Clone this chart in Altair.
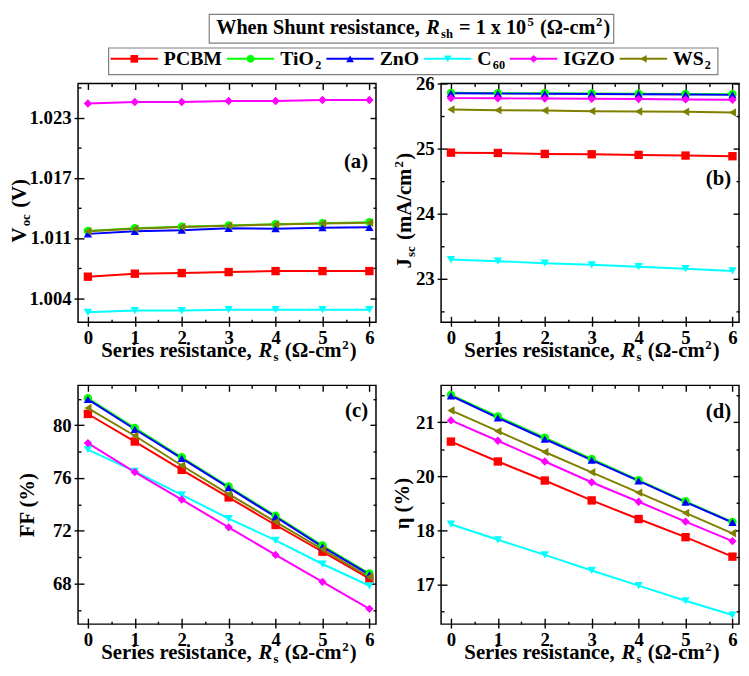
import altair as alt
import pandas as pd

# ---------------- data ----------------
RS = [0, 1, 2, 3, 4, 5, 6]
SERIES = ["PCBM", "TiO2", "ZnO", "C60", "IGZO", "WS2"]
COLORS = ["#ff0000", "#00ff00", "#0000ff", "#00ffff", "#ff00ff", "#808000"]
SHAPES = ["square", "circle", "triangle-up", "triangle-down", "diamond", "triangle-left"]
LEGEND_PARTS = [[("PCBM", "n")], [("TiO", "n"), ("2", "sub")], [("ZnO", "n")],
                [("C", "n"), ("60", "sub")], [("IGZO", "n")], [("WS", "n"), ("2", "sub")]]

VOC_PCBM = [1.00664, 1.00694, 1.00700, 1.00710, 1.00720, 1.00720, 1.00720]
VOC_TIO2 = [1.01120, 1.01148, 1.01162, 1.01174, 1.01187, 1.01198, 1.01208]
VOC_ZNO = [1.01091, 1.01117, 1.01127, 1.01146, 1.01143, 1.01153, 1.01156]
VOC_C60 = [1.00309, 1.00326, 1.00326, 1.00335, 1.00335, 1.00335, 1.00335]
VOC_IGZO = [1.02390, 1.02406, 1.02406, 1.02416, 1.02416, 1.02426, 1.02426]
VOC_WS2 = [1.01117, 1.01143, 1.01159, 1.01172, 1.01185, 1.01195, 1.01202]

JSC_PCBM = [24.937, 24.932, 24.917, 24.912, 24.902, 24.892, 24.882]
JSC_TIO2 = [25.856, 25.852, 25.850, 25.847, 25.843, 25.840, 25.836]
JSC_ZNO = [25.850, 25.845, 25.842, 25.838, 25.835, 25.830, 25.825]
JSC_C60 = [23.293, 23.268, 23.238, 23.213, 23.183, 23.153, 23.118]
JSC_IGZO = [25.775, 25.772, 25.768, 25.765, 25.760, 25.755, 25.750]
JSC_WS2 = [25.600, 25.590, 25.585, 25.575, 25.570, 25.565, 25.555]

FF_PCBM = [80.86, 78.77, 76.62, 74.53, 72.44, 70.41, 68.37]
FF_TIO2 = [82.05, 79.80, 77.58, 75.36, 73.14, 70.88, 68.76]
FF_ZNO = [81.97, 79.70, 77.49, 75.27, 73.05, 70.78, 68.67]
FF_C60 = [78.15, 76.50, 74.73, 72.93, 71.28, 69.48, 67.83]
FF_IGZO = [78.65, 76.45, 74.36, 72.26, 70.17, 68.12, 66.08]
FF_WS2 = [81.31, 79.21, 76.95, 74.78, 72.68, 70.59, 68.49]

ETA_PCBM = [20.30, 19.84, 19.40, 18.94, 18.51, 18.09, 17.64]
ETA_TIO2 = [21.38, 20.88, 20.39, 19.90, 19.41, 18.92, 18.44]
ETA_ZNO = [21.36, 20.85, 20.36, 19.87, 19.39, 18.90, 18.43]
ETA_C60 = [18.39, 18.03, 17.68, 17.32, 16.97, 16.62, 16.29]
ETA_IGZO = [20.79, 20.32, 19.84, 19.36, 18.91, 18.45, 18.00]
ETA_WS2 = [21.02, 20.54, 20.06, 19.59, 19.12, 18.65, 18.18]

# axis ticks
X_MINOR = [0.5, 1.5, 2.5, 3.5, 4.5, 5.5]
VOC_TICKS = [1.0045, 1.0105, 1.0165, 1.0225]
VOC_LABELS = ["1.004", "1.011", "1.017", "1.023"]
VOC_MINOR = [1.0015, 1.0075, 1.0135, 1.0195, 1.0255]
JSC_TICKS = [23, 24, 25, 26]
JSC_MINOR = [22.5, 23.5, 24.5, 25.5]
FF_TICKS = [68, 72, 76, 80]
FF_MINOR = [66, 70, 74, 78, 82]
ETA_TICKS = [17, 18.25, 19.5, 20.75]
ETA_LABELS = ["17", "18", "20", "21"]
ETA_MINOR = [16.375, 17.625, 18.875, 20.125, 21.375]


def long_df(cols):
    rows = []
    for name, vals in zip(SERIES, cols):
        for r, v in zip(RS, vals):
            rows.append({"Rs": r, "series": name, "value": v})
    return pd.DataFrame(rows)


DF_VOC = long_df([VOC_PCBM, VOC_TIO2, VOC_ZNO, VOC_C60, VOC_IGZO, VOC_WS2])
DF_JSC = long_df([JSC_PCBM, JSC_TIO2, JSC_ZNO, JSC_C60, JSC_IGZO, JSC_WS2])
DF_FF = long_df([FF_PCBM, FF_TIO2, FF_ZNO, FF_C60, FF_IGZO, FF_WS2])
DF_ETA = long_df([ETA_PCBM, ETA_TIO2, ETA_ZNO, ETA_C60, ETA_IGZO, ETA_WS2])

# ---------------- styling helpers ----------------
FONT = "Liberation Serif, Times New Roman, Times, serif"
W, H = 302, 242
XDOM = [-0.21, 6.14]
GAP = 1.2

TB = {' ': 250, '(': 333, ')': 333, ',': 250, '-': 333, '.': 250, '/': 278, '=': 570,
      '%': 1000, 'A': 722, 'B': 667, 'C': 722, 'D': 722, 'E': 667, 'F': 611, 'G': 778,
      'H': 778, 'I': 389, 'J': 500, 'K': 778, 'L': 667, 'M': 944, 'N': 722, 'O': 778,
      'P': 611, 'Q': 778, 'R': 722, 'S': 556, 'T': 667, 'U': 722, 'V': 722, 'W': 1000,
      'X': 722, 'Y': 722, 'Z': 667, 'a': 500, 'b': 556, 'c': 444, 'd': 556, 'e': 444,
      'f': 333, 'g': 500, 'h': 556, 'i': 278, 'j': 333, 'k': 556, 'l': 278, 'm': 833,
      'n': 556, 'o': 500, 'p': 556, 'q': 556, 'r': 444, 's': 389, 't': 333, 'u': 556,
      'v': 500, 'w': 722, 'x': 500, 'y': 500, 'z': 389, 'Ω': 768, 'η': 556}


def tw(s, size, italic=False):
    total = 0
    for ch in s:
        w = TB.get(ch, 500)
        if italic and ch == 'R':
            w = 667
        total += w
    return total * size / 1000.0


def frags(parts, x, y, F, align="middle", angle=0):
    sizes = []
    for t, k in parts:
        fs = F * 0.62 if k in ("sub", "sup") else F
        sizes.append((t, k, fs, tw(t, fs, k == "i") + GAP))
    total = sum(s[3] for s in sizes) - GAP
    out = []
    cur = 0.0
    for t, k, fs, w in sizes:
        lead = len(t) - len(t.lstrip())
        txt = t.strip()
        off = cur + tw(t[:lead], fs)
        shift = 0.0
        if k == "sub":
            shift = 0.2 * F
        elif k == "sup":
            shift = -0.38 * F
        if angle == 0:
            start = x - total / 2 if align == "middle" else x
            px, py = start + off, y + shift
        else:
            start = y + total / 2 if align == "middle" else y
            px, py = x + shift, start - off
        out.append(
            alt.Chart(pd.DataFrame({"t": [txt]}))
            .mark_text(align="left", baseline="alphabetic", font=FONT, fontSize=fs,
                       fontWeight="bold", fontStyle="italic" if k == "i" else "normal",
                       angle=angle, color="black")
            .encode(text="t:N", x=alt.value(px), y=alt.value(py))
        )
        cur += w
    return out, total


def label_expr(ticks, labels):
    expr = "'" + labels[-1] + "'"
    for i in range(len(ticks) - 2, -1, -1):
        mid = (ticks[i] + ticks[i + 1]) / 2
        expr = f"datum.value < {mid} ? '{labels[i]}' : ({expr})"
    return expr


def axis_main(orient, values, lexpr=None, fmt=None):
    kw = dict(orient=orient, values=values, title=None, grid=False, domain=False,
              tickSize=4, tickWidth=1.4, tickColor="black", labelFont=FONT,
              labelFontSize=19, labelFontWeight="bold", labelColor="black",
              labelPadding=3, labelFlush=False, labelOverlap=False)
    if lexpr:
        kw["labelExpr"] = lexpr
    if fmt:
        kw["format"] = fmt
    return alt.Axis(**kw)


def axis_in(orient, values, size):
    return alt.Axis(orient=orient, values=values, title=None, grid=False, domain=False,
                    labels=False, tickSize=size, offset=-size, tickWidth=1.4,
                    tickColor="black")


X_TITLE = [("Series resistance, ", "n"), ("R", "i"), ("s", "sub"), (" (Ω-cm", "n"),
           ("2", "sup"), (")", "n")]


def panel(df, ydom, ymaj, ymin, lexpr, ytitle, ytx, yty, tag, tag_y, extra=()):
    ys = alt.Scale(domain=ydom, nice=False, zero=False)
    xs = alt.Scale(domain=XDOM, nice=False, zero=False)
    ymin = [v for v in ymin if ydom[0] <= v <= ydom[1]]
    col = alt.Color("series:N", scale=alt.Scale(domain=SERIES, range=COLORS), legend=None)
    shp = alt.Shape("series:N", scale=alt.Scale(domain=SERIES, range=SHAPES), legend=None)
    base = alt.Chart(df)

    def xy(xa, ya):
        return dict(x=alt.X("Rs:Q", scale=xs, axis=xa), y=alt.Y("value:Q", scale=ys, axis=ya))

    lines = base.mark_line(strokeWidth=2).encode(
        color=col, **xy(axis_main("bottom", RS, fmt="d"),
                        axis_main("left", ymaj, lexpr, None if lexpr else "d")))
    pts = base.mark_point(filled=True, size=72, opacity=1).encode(
        color=col, shape=shp, **xy(axis_in("bottom", RS, 6), axis_in("left", ymaj, 6)))
    ax2 = base.mark_point(opacity=0).encode(**xy(axis_in("top", RS, 6), axis_in("right", ymaj, 6)))
    ax3 = base.mark_point(opacity=0).encode(**xy(axis_in("bottom", X_MINOR, 3), axis_in("left", ymin, 3)))
    ax4 = base.mark_point(opacity=0).encode(**xy(axis_in("top", X_MINOR, 3), axis_in("right", ymin, 3)))
    layers = [lines, pts, ax2, ax3, ax4]
    layers += frags(X_TITLE, W / 2 + 2, H + 35, 21)[0]
    layers += frags(ytitle, ytx, yty, 21, angle=270)[0]
    layers.append(
        alt.Chart(pd.DataFrame({"t": [tag]}))
        .mark_text(align="right", baseline="alphabetic", font=FONT, fontSize=21,
                   fontWeight="bold", color="black")
        .encode(text="t:N", x=alt.value(W - 8), y=alt.value(tag_y))
    )
    layers += list(extra)
    return alt.layer(*layers).resolve_axis(x="independent", y="independent").properties(
        width=W, height=H)


# ---------------- title and legend (drawn above panel a) ----------------
header = []
header.append(
    alt.Chart(pd.DataFrame({"a": [0]})).mark_rect(fill="white", stroke="#7f7f7f", strokeWidth=1.2)
    .encode(x=alt.value(133), x2=alt.value(543), y=alt.value(-70), y2=alt.value(-41))
)
TITLE = [("When Shunt resistance, ", "n"), ("R", "i"), ("sh", "sub"), (" = 1 x 10", "n"),
         ("5", "sup"), (" (Ω-cm", "n"), ("2", "sup"), (")", "n")]
header += frags(TITLE, 140, -50, 20.5, align="left")[0]

LEG_F = 20
LINE_Y = -25
leg_items = []
cx = 33
for name, c, s, parts in zip(SERIES, COLORS, SHAPES, LEGEND_PARTS):
    leg_items.append(
        alt.Chart(pd.DataFrame({"a": [0]})).mark_rule(color=c, strokeWidth=2)
        .encode(x=alt.value(cx), x2=alt.value(cx + 48), y=alt.value(LINE_Y))
    )
    leg_items.append(
        alt.Chart(pd.DataFrame({"a": [0]})).mark_point(filled=True, shape=s, size=60, color=c, opacity=1)
        .encode(x=alt.value(cx + 24), y=alt.value(LINE_Y))
    )
    cx += 48 + 6
    items, width = frags(parts, cx, -18.5, LEG_F, align="left")
    leg_items += items
    cx += width + 5
leg_box = (
    alt.Chart(pd.DataFrame({"a": [0]})).mark_rect(fill="white", stroke="#7f7f7f", strokeWidth=1.2)
    .encode(x=alt.value(31), x2=alt.value(cx + 2), y=alt.value(-36), y2=alt.value(-9))
)
header += [leg_box] + leg_items

# ---------------- panels ----------------
pa = panel(DF_VOC, [1.0021, 1.0259], VOC_TICKS, VOC_MINOR, label_expr(VOC_TICKS, VOC_LABELS),
           [("V", "n"), ("oc", "sub"), (" (V)", "n")], -53, H / 2 + 8, "(a)", 86, header)
pb = panel(DF_JSC, [22.33, 26.0], JSC_TICKS, JSC_MINOR, None,
           [("J", "n"), ("sc", "sub"), (" (mA/cm", "n"), ("2", "sup"), (")", "n")],
           -31, H / 2 + 8, "(b)", 103)
pc = panel(DF_FF, [64.92, 83.03], FF_TICKS, FF_MINOR, None,
           [("FF (%)", "n")], -45, H / 2, "(c)", 32)
pd_ = panel(DF_ETA, [16.08, 21.60], ETA_TICKS, ETA_MINOR, label_expr(ETA_TICKS, ETA_LABELS),
            [("η (%)", "n")], -33, H / 2 - 1, "(d)", 33)

chart = (
    alt.concat(pa, pb, pc, pd_, columns=2, spacing={"row": 64, "column": 66}, bounds="flush")
    .properties(padding=0, background="white")
    .configure_view(stroke="black", strokeWidth=1.5)
)

chart.save("out.html", embed_options={"renderer": "svg", "actions": False})
